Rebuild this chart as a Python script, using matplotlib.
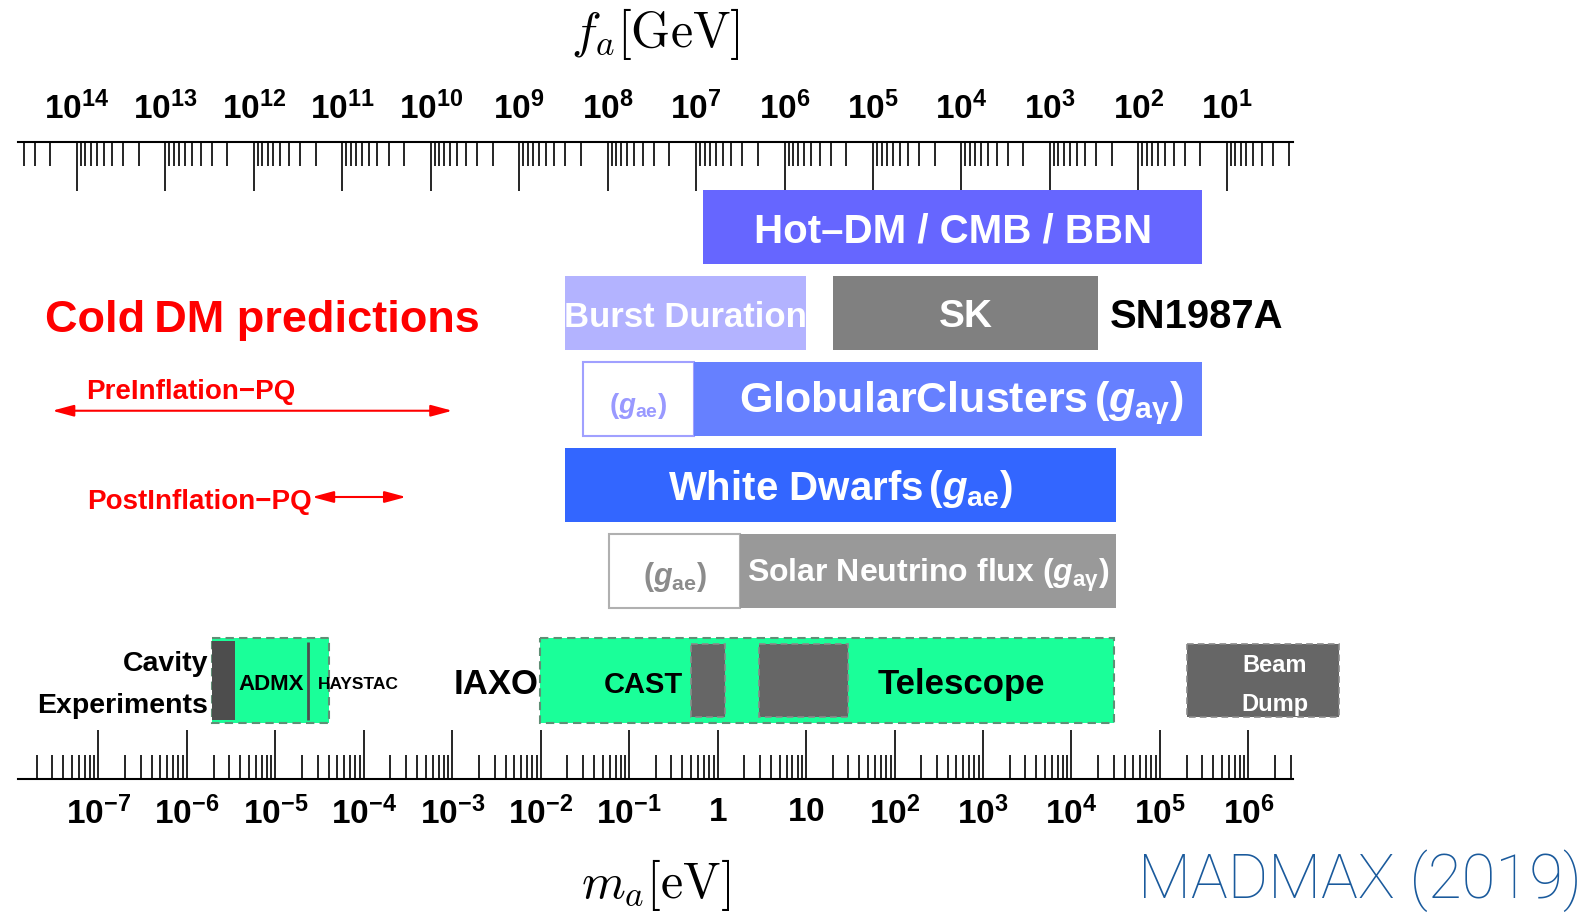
import numpy as np
import matplotlib.pyplot as plt
from matplotlib.ticker import FixedLocator, LogLocator, FuncFormatter, NullFormatter

plt.rcParams['font.family'] = ['Liberation Sans', 'DejaVu Sans']
plt.rcParams['font.weight'] = 'bold'
plt.rcParams['mathtext.fontset'] = 'custom'
plt.rcParams['mathtext.rm'] = 'Liberation Sans:bold'
plt.rcParams['mathtext.bf'] = 'Liberation Sans:bold'
plt.rcParams['mathtext.it'] = 'Liberation Sans:bold:italic'
plt.rcParams['mathtext.sf'] = 'Liberation Sans:bold'

# f_a [GeV] * m_a [eV]
FA_MA = 5.7e6

m_min, m_max = 1.24e-8, 3.2e6
m_exponents = list(range(-7, 7))
f_exponents = list(range(1, 15))

# astrophysical / cosmological bounds, axion mass in eV
hot_dm = [0.69, 3.0e5]
burst_duration = [0.019, 10.0]
sk = [20.0, 2.0e4]
gc_gae = [0.03, 0.54]
gc_gag = [0.54, 3.0e5]
white_dwarfs = [0.019, 3.2e4]
solar_gae = [0.059, 1.8]
solar_gag = [1.8, 3.2e4]

# experiments (eV)
cavity = [1.94e-6, 4.0e-5]
admx = [1.94e-6, 3.5e-6]
haystac = 2.33e-5
telescope = [9.7e-3, 3.0e4]
cast = [[0.5, 1.2], [2.96, 30.0]]
beam_dump = [2.0e5, 1.07e7]

# cold dark matter predictions (eV)
pre_inflation = [3.0e-8, 1.0e-3]
post_inflation = [2.6e-5, 3.0e-4]


def to_fa(x):
    x = np.array(x, dtype=float)
    out = np.full_like(x, np.inf)
    ok = ~np.isclose(x, 0)
    out[ok] = FA_MA / x[ok]
    return out


def gmid(lo, hi):
    return np.sqrt(lo * hi)


def band(lo, hi, y, h, **kw):
    ax.barh(y, hi - lo, left=lo, height=h, **kw)


def label(x, y, s, **kw):
    # text sits a touch below the row centre
    kw.setdefault('ha', 'center')
    kw.setdefault('va', 'center')
    ax.text(x, y + 0.047, s, **kw)


fig = plt.figure(figsize=(15.94, 9.13), dpi=100)
ax = fig.add_axes([18 / 1568, 1 - 766 / 898, 1254 / 1568, 626 / 898])
ax.set_xscale('log')
ax.set_xlim(m_min, m_max)
ax.set_ylim(6.42, -0.988)
ax.set_yticks([])
for s in ['left', 'right', 'top']:
    ax.spines[s].set_visible(False)
ax.spines['bottom'].set_linewidth(1.5)

y_hot, y_sn, y_gc, y_wd, y_sun, y_exp = 0, 1, 2, 3, 4, 5.28
h = 0.86
white = 'white'

# bounds
band(*hot_dm, y_hot, h, color='#6666ff')
label(gmid(*hot_dm), y_hot, 'Hot\u2013DM / CMB / BBN', color=white, fontsize=29)

band(*burst_duration, y_sn, h, color='#b3b3ff')
label(gmid(*burst_duration), y_sn, 'Burst Duration', color=white, fontsize=25)
band(*sk, y_sn, h, color='#808080')
label(gmid(*sk), y_sn, 'SK', color=white, fontsize=28)
label(sk[1] * 1.35, y_sn, 'SN1987A', color='black', fontsize=28.8, ha='left')

band(*gc_gae, y_gc, h, color=white, edgecolor='#a0a0ff', linewidth=1.5)
label(gmid(*gc_gae), y_gc + 0.03, r'$(g_{\rm ae})$', color='#9999ff', fontsize=20)
band(*gc_gag, y_gc, h, color='#6680ff')
label(gmid(*gc_gag) * 1.4, y_gc, r'GlobularClusters$\,(g_{\rm a\gamma})$',
      color=white, fontsize=31)

band(*white_dwarfs, y_wd, h, color='#3366ff')
label(gmid(*white_dwarfs), y_wd, r'White Dwarfs$\,(g_{\rm ae})$', color=white,
      fontsize=29)

band(*solar_gae, y_sun, h, color=white, edgecolor='#b0b0b0', linewidth=1.5)
label(gmid(*solar_gae), y_sun + 0.02, r'$(g_{\rm ae})$', color='#8c8c8c', fontsize=22)
band(*solar_gag, y_sun, h, color='#999999')
label(gmid(*solar_gag), y_sun, r'Solar Neutrino flux $(g_{\rm a\gamma})$',
      color=white, fontsize=23)

# experiments
dash = (0, (4, 2.5))
band(*cavity, y_exp, 0.99, color='#1aff99', edgecolor='#5f8f75',
     linestyle=dash, linewidth=1.5)
band(*admx, y_exp, 0.92, color='#4d4d4d')
ax.vlines(haystac, y_exp - 0.45, y_exp + 0.45, color='#4d4d4d', lw=2)
label(gmid(admx[1], haystac), y_exp, 'ADMX', fontsize=16)
label(haystac * 1.3, y_exp, 'HAYSTAC', fontsize=12.5, ha='left')
label(cavity[0] * 0.9, y_exp - 0.24, 'Cavity', fontsize=20.5, ha='right')
label(cavity[0] * 0.9, y_exp + 0.24, 'Experiments', fontsize=20.5, ha='right')

band(*telescope, y_exp, 0.99, color='#1aff99', edgecolor='#5f8f75',
     linestyle=dash, linewidth=1.5)
for lo, hi in cast:
    band(lo, hi, y_exp, 0.85, color='#666666', edgecolor='#8a8a8a',
         linestyle=dash, linewidth=1.2)
label(telescope[0] * 0.98, y_exp, 'IAXO', fontsize=25, ha='right')
label(gmid(telescope[0], cast[0][0]) * 2.1, y_exp, 'CAST', fontsize=21)
label(gmid(cast[1][1], telescope[1]) * 0.6, y_exp, 'Telescope', fontsize=25)

band(*beam_dump, y_exp, 0.85, color='#666666', edgecolor='#8a8a8a',
     linestyle=dash, linewidth=1.2, clip_on=False)
label(2.0e6, y_exp - 0.23, 'Beam', color=white, fontsize=17)
label(2.0e6, y_exp + 0.23, 'Dump', color=white, fontsize=17)

# cold dark matter predictions
label(2.5e-8, 1.035, 'Cold\u2009DM predictions', color='red', fontsize=32.5, ha='left')
label(7.3e-8, 1.875, 'PreInflation\u2212PQ', color='red', fontsize=20, ha='left')
arrow = dict(arrowstyle='<|-|>,head_length=1.3,head_width=0.35', color='red',
             lw=1.5, shrinkA=0, shrinkB=0, mutation_scale=10)
ax.annotate('', xy=(pre_inflation[0], 2.136), xytext=(pre_inflation[1], 2.136),
            arrowprops=arrow)
ax.annotate('', xy=(post_inflation[0], 3.14), xytext=(post_inflation[1], 3.14),
            arrowprops=arrow)
label(post_inflation[0], 3.15, 'PostInflation\u2212PQ', color='red', fontsize=20,
      ha='right')


# mass axis (bottom)
def m_label(v, pos):
    e = int(round(np.log10(v)))
    if e == 0:
        return r'$\mathbf{1}$'
    if e == 1:
        return r'$\mathbf{10}$'
    return r'$\mathbf{10^{%d}}$' % e


def f_label(v, pos):
    e = int(round(np.log10(v)))
    return r'$\mathbf{10^{%d}}$' % e


ax.xaxis.set_major_locator(FixedLocator([10.0 ** e for e in m_exponents]))
ax.xaxis.set_minor_locator(LogLocator(base=10, subs=np.arange(2, 10), numticks=40))
ax.xaxis.set_major_formatter(FuncFormatter(m_label))
ax.xaxis.set_minor_formatter(NullFormatter())
ax.tick_params(axis='x', which='major', direction='in', length=35, width=1.2,
               pad=13, labelsize=24)
ax.tick_params(axis='x', which='minor', direction='in', length=17, width=1.2)

# decay constant axis (top)
secax = ax.secondary_xaxis('top', functions=(to_fa, to_fa))
secax.xaxis.set_major_locator(FixedLocator([10.0 ** e for e in f_exponents]))
secax.xaxis.set_minor_locator(LogLocator(base=10, subs=np.arange(2, 10), numticks=40))
secax.xaxis.set_major_formatter(FuncFormatter(f_label))
secax.xaxis.set_minor_formatter(NullFormatter())
secax.tick_params(which='major', direction='in', length=35, width=1.2,
                  pad=12, labelsize=24)
secax.tick_params(which='minor', direction='in', length=17, width=1.2)
secax.spines['top'].set_linewidth(1.5)

fig.text(645 / 1568, 1 - 33 / 898, r'$f_a[\mathrm{GeV}]$', ha='center', va='center',
         fontsize=36, math_fontfamily='cm')
fig.text(645 / 1568, 1 - 870 / 898, r'$m_a[\mathrm{eV}]$', ha='center', va='center',
         fontsize=36, math_fontfamily='cm')
fig.text(1556 / 1568, 1 - 866 / 898, 'MADMAX (2019)', ha='right', va='center',
         fontsize=44.5, family=['Roboto', 'Lato', 'DejaVu Sans'], fontweight='light',
         color='#1a5a9c')

fig.savefig('out.png', dpi=100)
